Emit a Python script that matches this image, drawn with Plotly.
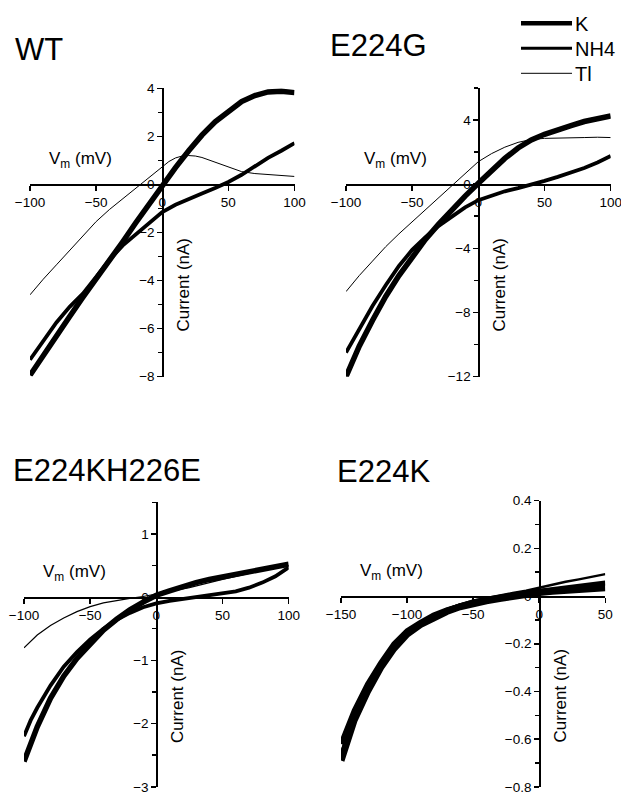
import plotly.graph_objects as go

# ---------------- data (Vm in mV, current in nA) ----------------
WT_K_V = [-100, -90, -80, -70, -60, -50, -40, -30, -20, -10, 0, 10, 20, 30, 40, 50, 60, 70, 80, 90, 100]
WT_K_I = [-7.95, -7.1, -6.3, -5.5, -4.7, -3.95, -3.15, -2.4, -1.6, -0.8, 0.0, 0.7, 1.4, 2.05, 2.6, 3.05, 3.45, 3.7, 3.85, 3.88, 3.82]
WT_NH4_V = [-100, -90, -80, -70, -60, -50, -40, -30, -20, -10, 0, 10, 20, 30, 40, 50, 60, 70, 80, 90, 100]
WT_NH4_I = [-7.3, -6.5, -5.75, -5.1, -4.55, -3.85, -3.15, -2.55, -2.1, -1.6, -1.15, -0.85, -0.6, -0.38, -0.15, 0.1, 0.4, 0.75, 1.1, 1.4, 1.72]
WT_TL_V = [-100, -90, -80, -70, -60, -50, -40, -30, -20, -10, 0, 5, 10, 15, 20, 25, 30, 35, 40, 45, 50, 55, 60, 70, 80, 90, 100]
WT_TL_I = [-4.6, -3.95, -3.35, -2.75, -2.15, -1.55, -1.05, -0.6, -0.15, 0.3, 0.75, 0.95, 1.1, 1.18, 1.2, 1.18, 1.12, 1.02, 0.9, 0.8, 0.7, 0.6, 0.53, 0.45, 0.4, 0.37, 0.33]

G_K_V = [-100, -95, -90, -80, -70, -60, -50, -40, -30, -20, -10, 0, 10, 20, 30, 40, 50, 60, 70, 80, 90, 100]
G_K_I = [-12.0, -11.0, -10.1, -8.5, -7.0, -5.7, -4.5, -3.45, -2.5, -1.6, -0.75, 0.05, 0.85, 1.6, 2.25, 2.75, 3.1, 3.4, 3.65, 3.9, 4.1, 4.25]
G_NH4_V = [-100, -90, -80, -70, -60, -50, -40, -30, -20, -10, 0, 10, 20, 30, 40, 50, 60, 70, 80, 90, 100]
G_NH4_I = [-10.5, -9.0, -7.6, -6.3, -5.1, -4.1, -3.3, -2.6, -2.0, -1.45, -1.0, -0.7, -0.45, -0.25, -0.05, 0.2, 0.45, 0.7, 1.0, 1.35, 1.75]
G_TL_V = [-100, -90, -80, -70, -60, -50, -40, -30, -20, -10, 0, 10, 20, 30, 40, 50, 60, 70, 80, 90, 100]
G_TL_I = [-6.7, -5.7, -4.8, -3.9, -3.1, -2.35, -1.6, -0.85, -0.1, 0.6, 1.4, 1.9, 2.3, 2.6, 2.78, 2.85, 2.88, 2.9, 2.9, 2.92, 2.9]

KH_K_V = [-100, -95, -90, -80, -70, -60, -50, -40, -30, -20, -10, 0, 10, 20, 30, 40, 50, 60, 70, 80, 90, 100]
KH_K_I = [-2.6, -2.3, -2.05, -1.6, -1.25, -0.97, -0.73, -0.52, -0.35, -0.2, -0.08, 0.03, 0.1, 0.17, 0.23, 0.28, 0.32, 0.36, 0.4, 0.43, 0.47, 0.52]
KH_NH4_V = [-100, -95, -90, -80, -70, -60, -50, -40, -30, -20, -10, 0, 10, 20, 30, 40, 50, 60, 70, 80, 90, 100]
KH_NH4_I = [-2.2, -1.95, -1.75, -1.4, -1.1, -0.87, -0.67, -0.5, -0.36, -0.25, -0.16, -0.1, -0.06, -0.03, 0.0, 0.02, 0.05, 0.09, 0.15, 0.23, 0.33, 0.47]
KH_TL_V = [-100, -90, -80, -70, -60, -50, -40, -30, -20, -10, 0, 25, 50, 75, 100]
KH_TL_I = [-0.8, -0.6, -0.45, -0.33, -0.23, -0.15, -0.09, -0.05, -0.02, 0.01, 0.05, 0.15, 0.28, 0.4, 0.5]

K_K_V = [-150, -145, -140, -130, -120, -110, -100, -90, -80, -70, -60, -50, -40, -30, -20, -10, 0, 10, 20, 30, 40, 50]
K_K_I = [-0.69, -0.6, -0.52, -0.4, -0.3, -0.22, -0.16, -0.12, -0.09, -0.065, -0.045, -0.03, -0.02, -0.01, 0.0, 0.008, 0.015, 0.02, 0.025, 0.028, 0.032, 0.035]
K_NH4_V = [-150, -145, -140, -130, -120, -110, -100, -90, -80, -70, -60, -50, -40, -30, -20, -10, 0, 10, 20, 30, 40, 50]
K_NH4_I = [-0.62, -0.55, -0.48, -0.37, -0.28, -0.2, -0.145, -0.11, -0.08, -0.058, -0.04, -0.025, -0.013, -0.003, 0.005, 0.013, 0.02, 0.028, 0.035, 0.042, 0.048, 0.055]
K_TL_V = [-150, -145, -140, -130, -120, -110, -100, -90, -80, -70, -60, -50, -40, -30, -20, -10, 0, 10, 20, 30, 40, 50]
K_TL_I = [-0.66, -0.58, -0.5, -0.38, -0.29, -0.21, -0.15, -0.11, -0.08, -0.055, -0.035, -0.02, -0.008, 0.003, 0.013, 0.022, 0.035, 0.048, 0.06, 0.07, 0.08, 0.092]

PANEL_TITLES = ["WT", "E224G", "E224KH226E", "E224K"]
X_RANGES = [(-100, 100), (-100, 100), (-100, 100), (-150, 50)]
Y_RANGES = [(-8, 4), (-12, 6), (-3, 1.5), (-0.8, 0.4)]
X_DTICK = [50, 50, 50, 50]
Y_DTICK = [2, 4, 1, 0.2]
Y_MINOR = [1, 2, 0.5, 0.1]
ION_NAMES = ["K", "NH4", "Tl"]

SERIES = [
    [(WT_K_V, WT_K_I), (WT_NH4_V, WT_NH4_I), (WT_TL_V, WT_TL_I)],
    [(G_K_V, G_K_I), (G_NH4_V, G_NH4_I), (G_TL_V, G_TL_I)],
    [(KH_K_V, KH_K_I), (KH_NH4_V, KH_NH4_I), (KH_TL_V, KH_TL_I)],
    [(K_K_V, K_K_I), (K_NH4_V, K_NH4_I), (K_TL_V, K_TL_I)],
]

# ---------------- layout geometry (pixels) ----------------
W, H = 621, 794
X_PX = [(30, 294.5), (346, 610.7), (24, 288.7), (341, 605.3)]
Y_PX = [(88.3, 376.5), (87.8, 376.7), (502.3, 786.8), (500.7, 786.8)]
TITLE_PX = [(13, 50), (328, 45.5), (11, 470.5), (335, 471.5)]
WIDTHS = [[5.5, 3.8, 1.0], [5.5, 3.8, 1.0], [5.5, 3.8, 1.2], [7.0, 5.0, 2.5]]

FONT = "Liberation Sans, Arial, sans-serif"


def fx(px):
    return px / W


def fy(py):
    return 1 - py / H


fig = go.Figure()
annotations = []
layout = {}

for i in range(4):
    n = "" if i == 0 else str(i + 1)
    xr, yr = X_RANGES[i], Y_RANGES[i]
    x0, x1 = X_PX[i]
    yt, yb = Y_PX[i]
    zero_y_px = yt + (yr[1] - 0) / (yr[1] - yr[0]) * (yb - yt)
    zero_x_px = x0 + (0 - xr[0]) / (xr[1] - xr[0]) * (x1 - x0)

    for j, (vv, ii) in enumerate(SERIES[i]):
        fig.add_trace(go.Scatter(
            x=vv, y=ii, mode="lines", name=ION_NAMES[j],
            line=dict(color="black", width=WIDTHS[i][j]),
            xaxis="x" + n, yaxis="y" + n, showlegend=False,
            hoverinfo="skip"))

    layout["xaxis" + n] = dict(
        domain=[fx(x0), fx(x1)], range=list(xr), anchor="free", automargin=False,
        position=fy(zero_y_px), showline=True, linecolor="black", linewidth=1.5,
        ticks="outside", ticklen=5, tickwidth=1.5, tickcolor="black",
        tick0=0, dtick=X_DTICK[i], showgrid=False, zeroline=False,
        ticklabeloverflow="allow",
        tickfont=dict(family=FONT, size=13.5, color="black"), fixedrange=True)
    layout["yaxis" + n] = dict(
        domain=[fy(yb), fy(yt)], range=list(yr), anchor="free", automargin=False,
        position=fx(zero_x_px), showline=True, linecolor="black", linewidth=1.5,
        ticks="outside", ticklen=5, tickwidth=1.5, tickcolor="black",
        tick0=0, dtick=Y_DTICK[i], showgrid=False, zeroline=False,
        ticklabeloverflow="allow",
        minor=dict(dtick=Y_MINOR[i], tick0=0, ticks="outside", ticklen=4,
                   tickwidth=1.5, tickcolor="black", showgrid=False),
        tickfont=dict(family=FONT, size=13.5, color="black"), fixedrange=True)

    # panel title
    tx, ty = TITLE_PX[i]
    annotations.append(dict(text=PANEL_TITLES[i], x=fx(tx), y=fy(ty), xref="paper", yref="paper",
                            xanchor="left", yanchor="middle", showarrow=False,
                            font=dict(family=FONT, size=31, color="black")))
    # x axis title
    annotations.append(dict(text="V<sub>m</sub> (mV)", x=fx(x0 + 50), y=fy(zero_y_px - 24),
                            xref="paper", yref="paper", xanchor="center", yanchor="middle",
                            showarrow=False, font=dict(family=FONT, size=17, color="black")))
    # y axis title
    annotations.append(dict(text="Current (nA)", x=fx(zero_x_px + 21),
                            y=fy(zero_y_px + 0.52 * (yb - zero_y_px)),
                            xref="paper", yref="paper", xanchor="center", yanchor="middle",
                            textangle=-90, showarrow=False,
                            font=dict(family=FONT, size=17, color="black")))

# legend (drawn as a key in the top-right corner)
LEG_Y = [23.3, 48.3, 73.3]
LEG_W = [4.5, 3.0, 1.0]
shapes = []
for j in range(3):
    shapes.append(dict(type="line", xref="paper", yref="paper",
                       x0=fx(521), x1=fx(572), y0=fy(LEG_Y[j]), y1=fy(LEG_Y[j]),
                       line=dict(color="black", width=LEG_W[j])))
    annotations.append(dict(text=ION_NAMES[j], x=fx(573), y=fy(LEG_Y[j] + 1), xref="paper", yref="paper",
                            xanchor="left", yanchor="middle", showarrow=False,
                            font=dict(family=FONT, size=20, color="black")))

fig.update_layout(
    width=W, height=H, margin=dict(l=0, r=0, t=0, b=0, pad=0, autoexpand=False),
    paper_bgcolor="white", plot_bgcolor="white", showlegend=False,
    annotations=annotations, shapes=shapes, **layout)

fig.write_html("out.html", config={"displayModeBar": False, "staticPlot": True},
               post_script="document.body.style.margin='0px';document.body.style.overflow='hidden';")
